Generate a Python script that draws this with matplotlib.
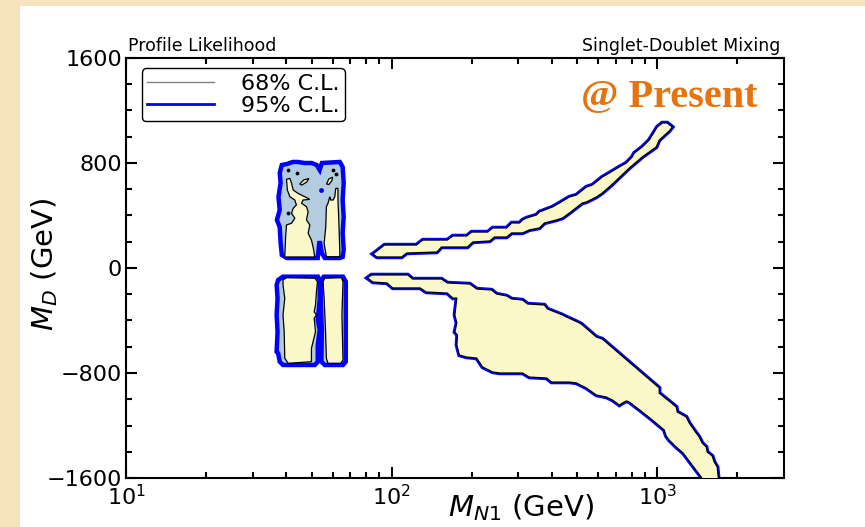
import matplotlib.pyplot as plt
from matplotlib.lines import Line2D
from matplotlib.patches import Rectangle
from matplotlib.ticker import MultipleLocator, LogLocator

# ---- contour outlines (x = M_N1 in GeV, y = M_D in GeV) ----

# upper branch (M_D > 0), 68% and 95% nearly coincide
band_up_x = [86, 94, 124, 131, 162, 170, 192, 200, 230, 240, 271, 283, 303, 311, 322,
             351, 360, 403, 428, 467, 496, 541, 570, 621, 660, 720, 765, 805, 820, 878,
             933, 1000, 1044, 1090, 1139,
             1109, 1017, 991, 878, 785, 672, 621, 590, 541, 522, 467, 440, 417, 376,
             360, 330, 311, 283, 271, 244, 234, 202, 193, 154, 148, 114, 109, 88, 85]
band_up_y = [114, 175, 175, 213, 213, 244, 244, 274, 274, 305, 305, 343, 343, 366, 381,
             404, 427, 465, 495, 541, 556, 617, 632, 693, 724, 770, 800, 846, 876, 922,
             975, 1074, 1105, 1105, 1074,
             1044, 975, 922, 846, 762, 632, 572, 541, 503, 495, 419, 381, 366, 343,
             305, 290, 267, 267, 236, 236, 206, 198, 160, 160, 122, 114, 84, 84, 107]

# lower branch (M_D < 0)
band_lo_x = [81, 84, 115, 120, 154, 162, 197, 209, 238, 248, 271, 283, 311, 325, 376,
             386, 440, 455, 500, 518, 590, 621, 1017, 1017, 1179, 1189, 1285, 1319, 1401,
             1438, 1476, 1529, 1542, 1610, 1638, 1681, 1696, 1711,
             1582, 1464, 1285, 1252, 1179, 1109, 1081, 1062, 958, 878, 785, 765, 739,
             720, 678, 643, 590, 541, 496, 467, 400, 383, 330, 311, 255, 240, 220, 209,
             191, 180, 176, 177, 173, 176, 173, 176, 170, 162, 135, 128, 101, 96, 85]
band_lo_y = [-76, -53, -53, -84, -84, -114, -122, -160, -168, -198, -213, -236, -244, -274, -282,
             -312, -358, -373, -411, -427, -526, -541, -914, -953, -1059, -1097, -1135, -1181, -1257,
             -1288, -1334, -1364, -1402, -1433, -1478, -1516, -1593, -1692,
             -1692, -1593, -1440, -1410, -1364, -1311, -1280, -1234, -1158, -1097, -1021, -1013, -1029,
             -1044, -1006, -983, -968, -914, -876, -869, -869, -838, -831, -800, -800, -792, -754, -686,
             -678, -663, -587, -511, -488, -419, -358, -229, -229, -191, -183, -152, -152, -114, -107]

# light-mass islands, 95% C.L.
ul95_x = [38.6, 40.3, 42.5, 44.3, 47.1, 50.0, 52.2, 53.6, 54.6, 63.8, 65.4, 66.0, 65.4, 66.0,
          65.4, 66.0, 65.4, 63.8, 56.0, 54.6, 53.8, 53.4, 52.7, 40.3, 38.6, 38.2, 37.9, 37.0,
          37.9, 37.5, 38.2, 37.9]
ul95_y = [785, 792, 808, 808, 800, 800, 785, 747, 800, 808, 770, 648, 518, 389,
          267, 137, 84, 76, 76, 114, 190, 190, 76, 76, 99, 191, 312, 366,
          442, 541, 648, 724]
ll95_x = [37.4, 39.0, 52.8, 53.6, 53.6, 52.7, 53.6, 52.7, 52.7, 51.4, 39.0, 37.9, 37.4, 36.9,
          37.2, 36.9, 37.2, 36.9]
ll95_y = [-91, -66, -66, -91, -244, -396, -472, -587, -716, -739, -739, -714, -650, -638,
          -485, -358, -231, -130]
lr95_x = [54.4, 55.5, 65.6, 67.2, 67.2, 65.6, 56.0, 54.4, 54.6, 54.1]
lr95_y = [-91, -66, -66, -104, -714, -739, -739, -714, -472, -244]

# light-mass islands, 68% C.L.
ua68_x = [39.6, 51.4, 50.6, 49.9, 48.5, 49.2, 47.8, 48.5, 47.8, 45.8, 46.4, 49.2, 47.1, 44.4,
          42.6, 42.0, 41.4, 40.2, 40.5, 41.4, 43.2, 43.8, 42.6, 42.0, 43.2, 42.0, 40.2, 39.9]
ua68_y = [84, 84, 162, 213, 264, 328, 366, 429, 467, 493, 518, 523, 543, 569,
          594, 645, 683, 676, 594, 543, 518, 480, 455, 417, 379, 341, 328, 239]
ub68_x = [56.8, 63.8, 63.8, 63.2, 62.8, 62.8, 61.6, 61.1, 60.2, 59.0, 58.5, 57.6, 56.8, 56.5, 55.7]
ub68_y = [86, 86, 137, 391, 518, 607, 607, 543, 518, 518, 543, 493, 467, 315, 188]
uc68_x = [45.1, 46.7, 48.8, 47.9, 45.9]
uc68_y = [640, 671, 682, 655, 632]
ud68_x = [56.9, 58.0, 60.0, 59.5, 58.0]
ud68_y = [640, 678, 693, 663, 636]
la68_x = [39.0, 40.2, 51.4, 52.6, 52.1, 51.7, 51.1, 52.1, 51.1, 51.7, 49.9, 49.9, 40.8, 39.6,
          39.4, 39.0, 39.6, 39.0]
la68_y = [-91, -74, -78, -104, -181, -282, -333, -358, -383, -485, -612, -714, -726, -688,
          -485, -358, -231, -130]
lb68_x = [56.0, 64.7, 65.6, 65.0, 65.6, 64.3, 57.6, 56.8, 56.4, 55.7, 55.2]
lb68_y = [-78, -74, -104, -358, -701, -726, -726, -688, -485, -231, -104]

# tiny specks
dots_x = [40.6, 43.9, 60.0, 61.6, 40.6]
dots_y = [747, 724, 747, 716, 419]

yellow = '#FAF7C8'
lblue = '#B3CCDF'

fig = plt.figure(figsize=(8.65, 5.27), dpi=100, facecolor='#F6E2BC')
bg = Rectangle((20 / 865, 0), 1, 1 - 6 / 527, transform=fig.transFigure,
               facecolor='white', edgecolor='none', zorder=-10)
fig.add_artist(bg)
ax = fig.add_axes([126 / 865, 1 - 478 / 527, 658 / 865, 420 / 527])
ax.set_zorder(1)

c95 = [(band_up_x, band_up_y), (band_lo_x, band_lo_y),
       (ul95_x, ul95_y), (ll95_x, ll95_y), (lr95_x, lr95_y)]
c68 = [(band_up_x, band_up_y), (band_lo_x, band_lo_y), (ua68_x, ua68_y), (ub68_x, ub68_y),
       (uc68_x, uc68_y), (ud68_x, ud68_y), (la68_x, la68_y), (lb68_x, lb68_y)]

for xs, ys in c95:
    ax.fill(xs, ys, facecolor=lblue, edgecolor='#0000FF', lw=3.2, zorder=2)
for xs, ys in c68:
    ax.fill(xs, ys, facecolor=yellow, edgecolor='black', lw=0.9, zorder=3)
ax.scatter(dots_x, dots_y, s=3, color='black', zorder=4)
ax.scatter([54.4], [594], s=6, color='#0000FF', zorder=4)

ax.set_xscale('log')
ax.set_xlim(10, 3000)
ax.set_ylim(-1600, 1600)
ax.set_yticks([-1600, -800, 0, 800, 1600])
ax.yaxis.set_minor_locator(MultipleLocator(200))
ax.xaxis.set_major_locator(LogLocator(base=10))
ax.xaxis.set_minor_locator(LogLocator(base=10, subs=range(2, 10)))
ax.tick_params(which='both', direction='in', top=True, right=True, width=1.5, labelsize=16)
ax.tick_params(which='major', length=8)
ax.tick_params(which='minor', length=4)
ax.tick_params(axis='x', pad=4)
ax.tick_params(axis='y', pad=3)
for s in ax.spines.values():
    s.set_linewidth(1.5)

ax.set_xlabel(r'$M_{N1}$ (GeV)', fontsize=21)
ax.xaxis.set_label_coords(0.6, -0.035)
ax.set_ylabel(r'$M_D$ (GeV)', fontsize=21)
ax.yaxis.set_label_coords(-0.1, 0.51)

ax.text(0.003, 1.006, 'Profile Likelihood', transform=ax.transAxes, fontsize=12.5,
        ha='left', va='bottom')
ax.text(0.995, 1.006, 'Singlet-Doublet Mixing', transform=ax.transAxes, fontsize=12.5,
        ha='right', va='bottom')
ax.text(0.96, 0.905, '@ Present', transform=ax.transAxes, fontsize=29, fontweight='bold',
        family='Liberation Serif', color='#E5730E', ha='right', va='center')

handles = [Line2D([], [], color='gray', lw=1.0), Line2D([], [], color='#0000FF', lw=2)]
leg = ax.legend(handles, ['68% C.L.', '95% C.L.'], loc='upper left',
                bbox_to_anchor=(0.024, 0.976), borderaxespad=0, fontsize=16,
                handlelength=3.0, handletextpad=1.2, frameon=True, fancybox=True,
                framealpha=1, edgecolor='black', labelspacing=0.1, borderpad=0.25)
leg.get_frame().set_linewidth(1.0)

plt.savefig('out.png', dpi=100, facecolor=fig.get_facecolor())
